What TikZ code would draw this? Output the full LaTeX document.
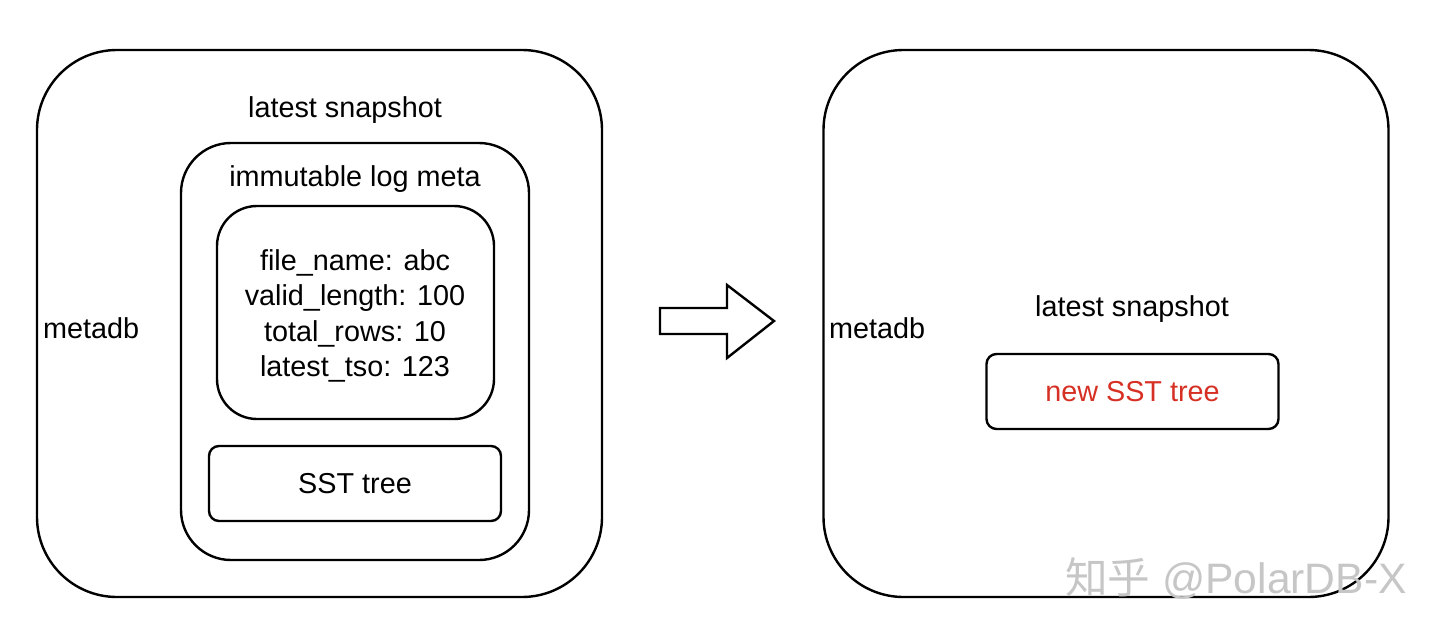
\documentclass[tikz,border=0pt]{standalone}
\usepackage{fontspec}
\setmainfont{Liberation Sans}
\newfontfamily\cjkfont{Noto Sans CJK SC}
\usepackage{xcolor}
\usetikzlibrary{positioning}

\definecolor{newred}{RGB}{214,48,36}

\begin{document}
\begin{tikzpicture}[
    x=0.5pt, y=-0.5pt,
    font=\fontsize{14.4}{17.7}\selectfont,
    line width=1.2pt,
    %% box styles
    outer/.style={
        draw, rounded corners=40pt,
        minimum width=282.5pt, minimum height=273.5pt
    },
    logmeta/.style={
        draw, rounded corners=25pt,
        minimum width=174pt, minimum height=208.5pt
    },
    fields/.style={
        draw, rounded corners=20pt,
        minimum width=138.5pt, minimum height=106.5pt,
        align=center
    },
    tree/.style={
        draw, rounded corners=5pt,
        minimum width=146pt, minimum height=37.5pt
    },
    %% label styles
    lbl/.style={inner sep=0pt}
]

    \useasboundingbox (0,0) rectangle (1440,637);

    %% --- left: metadb ------------------------------------------
    \node[outer]   (left)   at (319.5,323.5) {};
    \node[lbl, anchor=west] (ldb) at (42,328) {metadb};
    \node[lbl]     (lsnap)  at (345,110) {latest snapshot};

    \node[logmeta] (meta)   at (355,351.5) {};
    \node[lbl]     (mlbl)   at (355,179) {immutable log meta};

    \node[fields]  (fields) at (355.5,312.5) {};
    \node[lbl, align=center] (vals) at (355,316) {%
        file\_name: abc\\
        valid\_length: 100\\
        total\_rows: 10\\
        latest\_tso: 123
    };

    \node[tree]    (sst)    at (355,483.5) {SST tree};

    %% --- arrow ---------------------------------------------------
    \coordinate (tip) at (774,321);
    \draw[line join=miter] (660,308) -- (727,308) -- (727,285) -- (tip)
        -- (727,358) -- (727,334) -- (660,334) -- cycle;

    %% --- right: metadb -----------------------------------------
    \node[outer]   (right)  at (1106,323.5) {};
    \node[lbl, anchor=west] (rdb) at (828,328) {metadb};
    \node[lbl]     (rsnap)  at (1132,309) {latest snapshot};
    \node[tree, text=newred] (newsst) at (1132.5,391.5) {new SST tree};

    %% --- watermark ---------------------------------------------
    \node[lbl, gray!45, font=\fontsize{21.3}{24}\selectfont, anchor=west]
        (mark) at (1064,579) {{\cjkfont 知乎} @PolarDB-X};

\end{tikzpicture}
\end{document}
